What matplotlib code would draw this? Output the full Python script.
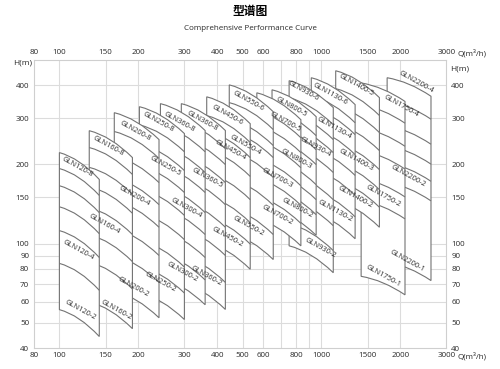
import numpy as np
import matplotlib
matplotlib.use('Agg')
import matplotlib.pyplot as plt
from matplotlib.path import Path
from matplotlib.patches import PathPatch
from matplotlib.ticker import NullLocator

plt.rcParams['font.family'] = ['Open Sans', 'DejaVu Sans']

# pump models: flow range (m3/h) and head (m) of each curve at the low-flow end
models = ['GLN120', 'GLN160', 'GLN200', 'GLN250', 'GLN300', 'GLN360', 'GLN450',
          'GLN550', 'GLN700', 'GLN800', 'GLN930', 'GLN1130', 'GLN1400',
          'GLN1750', 'GLN2200']
q_min = [100, 130, 162, 202, 243, 292, 365, 445, 567, 648, 753, 915, 1134, 1418, 1782]
q_max = [142, 190, 240, 300, 360, 430, 535, 655, 835, 955, 1110, 1345, 1665, 2085, 2620]
# head at q_max divided by head at q_min
h_ratio = [0.79, 0.79, 0.79, 0.79, 0.79, 0.79, 0.79, 0.79, 0.79, 0.79, 0.79,
           0.79, 0.79, 0.85, 0.85]
heads = [
    [222, 193, 166, 138, 112, 84, 56],
    [269, 232, 195, 165, 137, 108, 85, 60],
    [315, 267, 216, 178, 146, 114, 90, 66],
    [332, 283, 240, 198, 162, 131, 103, 82, 65],
    [341, 283, 236, 198, 166, 137, 112, 92, 74],
    [341, 291, 253, 216, 178, 146, 114, 90, 71],
    [362, 307, 269, 228, 186, 152, 126, 101],
    [402, 344, 299, 269, 226, 177, 137, 110],
    [375, 320, 281, 246, 210, 177, 151, 124],
    [385, 326, 288, 253, 212, 186, 163, 136],
    [417, 359, 315, 281, 236, 186, 148, 119, 98],
    [428, 365, 329, 276, 230, 193, 160, 132],
    [455, 389, 335, 286, 242, 203, 174, 146],
    [409, 338, 276, 226, 177, 146, 75],
    [428, 350, 281, 236, 203, 171, 85],
]

curve_labels = ['GLN120-8', 'GLN120-4', 'GLN120-2', 'GLN160-8', 'GLN160-4', 'GLN160-2',
                'GLN200-8', 'GLN200-4', 'GLN200-2', 'GLN250-8', 'GLN250-5', 'GLN250-2',
                'GLN360-8', 'GLN300-4', 'GLN300-2', 'GLN360-8', 'GLN360-5', 'GLN360-2',
                'GLN450-6', 'GLN450-4', 'GLN450-2', 'GLN550-6', 'GLN550-4', 'GLN550-2',
                'GLN700-5', 'GLN700-3', 'GLN700-2', 'GLN800-5', 'GLN800-3', 'GLN800-2',
                'GLN930-6', 'GLN930-4', 'GLN930-2', 'GLN1130-6', 'GLN1130-4', 'GLN1130-2',
                'GLN1400-5', 'GLN1400-3', 'GLN1400-2', 'GLN1750-4', 'GLN1750-2', 'GLN1750-1',
                'GLN2200-4', 'GLN2200-2', 'GLN2200-1']
label_q = [117, 118, 120, 154, 148, 165, 195, 193, 192, 239, 254, 243, 287, 305, 295,
           351, 367, 364, 438, 449, 438, 526, 513, 526, 729, 679, 679, 768, 803, 810,
           854, 949, 991, 1082, 1121, 1131, 1360, 1360, 1348, 2020, 1725, 1725,
           2305, 2148, 2129]
label_h = [195, 94, 55.6, 236, 119, 55.6, 269, 152, 68, 291, 198, 71, 291, 137, 77.6,
           294, 178, 75, 309, 226, 106, 350, 236, 117, 291, 178, 128, 332, 210, 136,
           382, 232, 95.7, 372, 276, 133, 402, 207, 150, 335, 152, 75, 413, 180, 86]

q_ticks = [80, 100, 150, 200, 300, 400, 500, 600, 800, 1000, 1500, 2000, 3000]
h_ticks = [40, 50, 60, 70, 80, 90, 100, 150, 200, 300, 400]
q_grid = [100, 150, 200, 300, 400, 500, 600, 700, 800, 900, 1000, 1500, 2000]
h_grid = [50, 60, 70, 80, 90, 100, 150, 200, 300, 400]

LINE = '#737373'
GRID = '#dcdcdc'
TXT = '#2a2a2a'


def curve(q0, q1, h0, r):
    # quadratic bezier: flat at shut-off, steeper towards run-out
    return [(q0, h0), (np.sqrt(q0 * q1), h0 * r ** 0.2), (q1, h0 * r)]


fig = plt.figure(figsize=(5, 3.69), dpi=100)
ax = fig.add_axes([0.068, 0.0569, 0.8248, 0.7805])
ax.set_xscale('log')
ax.set_yscale('log')
ax.set_xlim(80, 3000)
ax.set_ylim(40, 500)

for q in q_grid:
    ax.axvline(q, color=GRID, lw=0.8, zorder=0)
for h in h_grid:
    ax.axhline(h, color=GRID, lw=0.8, zorder=0)

for i in range(len(models)):
    q0, q1, r = q_min[i], q_max[i], h_ratio[i]
    hs = heads[i]
    top = curve(q0, q1, hs[0], r)
    bot = curve(q0, q1, hs[-1], r)
    verts = top + [bot[2], bot[1], bot[0], top[0], top[0]]
    codes = [Path.MOVETO, Path.CURVE3, Path.CURVE3, Path.LINETO,
             Path.CURVE3, Path.CURVE3, Path.LINETO, Path.CLOSEPOLY]
    z = 100 - 2 * i
    ax.add_patch(PathPatch(Path(verts, codes), facecolor='white',
                           edgecolor=LINE, lw=0.8, zorder=z))
    for h in hs[1:-1]:
        p = Path(curve(q0, q1, h, r), [Path.MOVETO, Path.CURVE3, Path.CURVE3])
        ax.add_patch(PathPatch(p, fill=False, edgecolor=LINE, lw=0.8, zorder=z + 0.5))

for name, q, h in zip(curve_labels, label_q, label_h):
    ax.text(q, h, name, fontsize=5.4, color=TXT, rotation=-29,
            rotation_mode='anchor', ha='center', va='center', zorder=200)

ax.set_xticks(q_ticks)
ax.set_xticklabels([str(v) for v in q_ticks])
ax.set_yticks(h_ticks)
ax.set_yticklabels([str(v) for v in h_ticks])
ax.xaxis.set_minor_locator(NullLocator())
ax.yaxis.set_minor_locator(NullLocator())
ax.tick_params(axis='both', length=0, labelsize=5.8, colors=TXT,
               top=True, right=True, labeltop=True, labelright=True)
ax.tick_params(axis='x', pad=3)
ax.tick_params(axis='y', pad=3.5)
for s in ax.spines.values():
    s.set_color('#cfcfcf')
    s.set_linewidth(0.8)

fig.text(0.5, 1 - 12 / 369, '型谱图', fontsize=8.5, fontweight='bold',
         family=['Noto Sans CJK SC', 'DejaVu Sans'], ha='center', va='center')
fig.text(0.5, 1 - 29 / 369, 'Comprehensive Performance Curve', fontsize=5.8,
         color=TXT, ha='center', va='center')
fig.text(23 / 500, 1 - 62.5 / 369, 'H(m)', fontsize=6, color=TXT,
         ha='center', va='center')
fig.text(460 / 500, 1 - 68.5 / 369, 'H(m)', fontsize=6, color=TXT,
         ha='center', va='center')
fig.text(457 / 500, 1 - 53.5 / 369, 'Q(m³/h)', fontsize=5.8, color=TXT,
         ha='left', va='center')
fig.text(457 / 500, 1 - 356.5 / 369, 'Q(m³/h)', fontsize=5.8, color=TXT,
         ha='left', va='center')

fig.savefig('out.png', dpi=100)
